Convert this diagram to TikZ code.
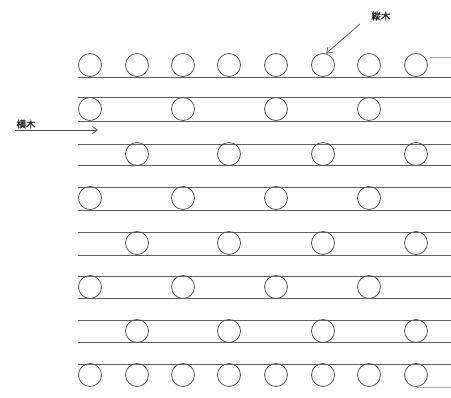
\documentclass[tikz,border=0pt]{standalone}
\usepackage{fontspec}
\newfontfamily\jpfont[FakeBold=1.5]{Noto Sans CJK JP}
\usetikzlibrary{arrows.meta}
\definecolor{linec}{HTML}{656060}
\definecolor{circc}{HTML}{5A5555}
\begin{document}
\begin{tikzpicture}[x=1pt,y=-1pt,
  log/.style={circle,draw=circc,line width=0.8pt,minimum size=23pt,inner sep=0pt},
  rail/.style={draw=linec,line width=0.9pt},
  lbl/.style={font=\jpfont\fontsize{9.5}{9.5}\selectfont,text=black!85,inner sep=0pt},
  pointer/.style={draw=black!70,line width=0.7pt,-{Straight Barb[length=5pt,width=7pt]}}]
\useasboundingbox (0,0) rectangle (451,398);
% horizontal lines
\foreach \y in {77,97,121,144,165,187,210,232,255,276,298,320,342,364}
  \draw[rail] (78,\y) -- (451,\y);
\draw[draw=linec!60,line width=0.6pt] (430,57) -- (451,57);
\draw[draw=linec!60,line width=0.6pt] (417,387) -- (451,387);
% columns
\def\cx{{90,137,183,229,276,323,369,416}}
% rows 1 and 8: all columns
\foreach \i in {1,...,8}{
  \pgfmathsetmacro{\xx}{\cx[\i-1]}
  \node[log] (r1c\i) at (\xx,65) {};
  \node[log] (r8c\i) at (\xx,375) {};
}
% rows 2,4,6: odd columns
\foreach \r/\y in {2/109,4/198,6/287}{
  \foreach \i in {1,3,5,7}{
    \pgfmathsetmacro{\xx}{\cx[\i-1]}
    \node[log] (r\r c\i) at (\xx,\y) {};
  }
}
% rows 3,5,7: even columns
\foreach \r/\y in {3/154,5/243,7/331}{
  \foreach \i in {2,4,6,8}{
    \pgfmathsetmacro{\xx}{\cx[\i-1]}
    \node[log] (r\r c\i) at (\xx,\y) {};
  }
}
% labels
\node[lbl] (tate) at (381,16) {縦木};
\coordinate (tateS) at (360,24);
\draw[pointer] (tateS) -- (r1c6.75);
\node[lbl] (yoko) at (26,124) {横木};
\coordinate (yokoS) at (15,130);
\coordinate (yokoE) at (98,130);
\draw[pointer] (yokoS) -- (yokoE);
\end{tikzpicture}
\end{document}
